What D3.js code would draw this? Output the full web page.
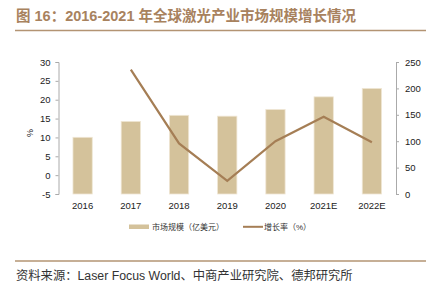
<!DOCTYPE html>
<html>
<head>
<meta charset="utf-8">
<title>全球激光产业市场规模</title>
<script src="https://d3js.org/d3.v7.min.js"></script>
<style>
  body { margin: 0; background: #fff; }
  svg text { font-family: "Liberation Sans", Arial, sans-serif; }
  .cjk { font-family: "Liberation Sans", Arial, "Noto Sans CJK SC", sans-serif; }
</style>
</head>
<body>
<div id="chart"></div>
<script>
// data
var years = ["2016", "2017", "2018", "2019", "2020", "2021E", "2022E"];
var marketSize = [107.4, 137.5, 149, 147.4, 160, 184, 200];   // 亿美元, right axis
var growthRate = [null, 28, 8.4, -1.5, 9, 15.5, 8.7];          // %, left axis
var leftTicks = [-5, 0, 5, 10, 15, 20, 25, 30];
var rightTicks = [0, 50, 100, 150, 200, 250];

var W = 435, H = 293;
var barColor = "#d4c29b", lineColor = "#a57e55", brown = "#a8825e";

var svg = d3.select("#chart").append("svg")
  .attr("width", W).attr("height", H);

// title + rules
svg.append("text")
  .attr("class", "cjk")
  .attr("x", 16).attr("y", 21)
  .attr("font-size", 14.5).attr("font-weight", "bold")
  .attr("fill", brown)
  .text("图 16：2016-2021 年全球激光产业市场规模增长情况");

svg.append("line").attr("x1", 15).attr("x2", 426).attr("y1", 30.5).attr("y2", 30.5)
  .attr("stroke", "#b39473").attr("stroke-width", 1.5);
svg.append("line").attr("x1", 15).attr("x2", 426).attr("y1", 261).attr("y2", 261)
  .attr("stroke", "#b39473").attr("stroke-width", 1.5);

svg.append("text")
  .attr("class", "cjk")
  .attr("x", 16).attr("y", 280)
  .attr("font-size", 12.3).attr("fill", "#333")
  .text("资料来源：Laser Focus World、中商产业研究院、德邦研究所");

// scales
var x = d3.scaleBand().domain(years).range([58.5, 396]).paddingInner(0.6).paddingOuter(0.3);
var yL = d3.scaleLinear().domain([-5, 30]).range([194, 62]);
var yR = d3.scaleLinear().domain([0, 250]).range([194, 62]);

// axes
var gL = svg.append("g").attr("transform", "translate(58.5,0)")
  .call(d3.axisLeft(yL).tickValues(leftTicks).tickFormat(String).tickSize(3).tickPadding(5));
var gR = svg.append("g").attr("transform", "translate(396,0)")
  .call(d3.axisRight(yR).tickValues(rightTicks).tickFormat(String).tickSize(3).tickPadding(6));
[gL, gR].forEach(function (g) {
  g.selectAll("path, line").attr("stroke", "#aaa");
  g.selectAll("text").attr("font-size", 9.5).attr("fill", "#222")
    .attr("font-family", "Liberation Sans, Arial, sans-serif");
});

svg.append("text")
  .attr("transform", "translate(33,133) rotate(-90)")
  .attr("text-anchor", "middle")
  .attr("font-size", 9).attr("fill", "#222")
  .text("%");

// x labels
svg.append("g").selectAll("text").data(years).join("text")
  .attr("x", function (d) { return x(d) + x.bandwidth() / 2; })
  .attr("y", 209)
  .attr("text-anchor", "middle")
  .attr("font-size", 9.5).attr("fill", "#222")
  .text(function (d) { return d; });

// bars
svg.append("g").selectAll("rect").data(years).join("rect")
  .attr("x", function (d) { return x(d); })
  .attr("width", x.bandwidth())
  .attr("y", function (d, i) { return yR(marketSize[i]); })
  .attr("height", function (d, i) { return yR(0) - yR(marketSize[i]); })
  .attr("fill", barColor)
  .attr("stroke", "#efe6d4").attr("stroke-width", 0.8);

// growth line
var pts = years.map(function (d, i) { return [d, growthRate[i]]; })
  .filter(function (p) { return p[1] != null; });
var line = d3.line()
  .x(function (p) { return x(p[0]) + x.bandwidth() / 2; })
  .y(function (p) { return yL(p[1]); });
svg.append("path").datum(pts)
  .attr("d", line)
  .attr("fill", "none")
  .attr("stroke", lineColor)
  .attr("stroke-width", 2.2);

// legend
var lg = svg.append("g");
lg.append("rect").attr("x", 129).attr("y", 224.5).attr("width", 20).attr("height", 4.5).attr("fill", barColor);
lg.append("text").attr("class", "cjk").attr("x", 152).attr("y", 230)
  .attr("font-size", 8).attr("fill", "#333").text("市场规模（亿美元）");
lg.append("line").attr("x1", 243).attr("x2", 263).attr("y1", 226.8).attr("y2", 226.8)
  .attr("stroke", lineColor).attr("stroke-width", 2);
lg.append("text").attr("class", "cjk").attr("x", 264).attr("y", 230)
  .attr("font-size", 8).attr("fill", "#333").text("增长率（%）");
</script>
</body>
</html>
